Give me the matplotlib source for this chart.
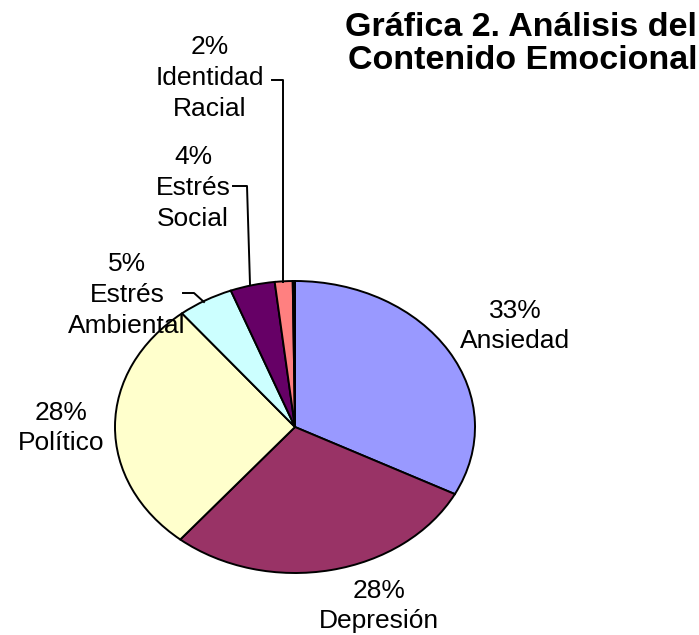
import matplotlib
matplotlib.use("Agg")
import matplotlib.pyplot as plt

# datos de la gráfica (porcentajes)
categorias = ["Ansiedad", "Depresión", "Político", "Estrés\nAmbiental",
              "Estrés\nSocial", "Identidad\nRacial", ""]
valores = [32.6, 28.4, 28.2, 5.0, 4.0, 1.6, 0.2]
colores = ["#9999FF", "#993366", "#FFFFCC", "#CCFFFF", "#660066", "#FF8080", "#000000"]

plt.rcParams['font.family'] = ['Liberation Sans', 'DejaVu Sans']

W, H = 699, 635
CX, CY, RX, RY = 295, 427, 180, 146


def px(x, y):
    # pixel de la imagen -> coordenadas de datos del pastel
    return (x - CX) / RX, (CY - y) / RY


fig = plt.figure(figsize=(W / 100, H / 100), dpi=100)
ax = fig.add_axes([0, 0, 1, 1])
ax.pie(valores, colors=colores, startangle=90, counterclock=False, radius=1,
       wedgeprops=dict(edgecolor="black", linewidth=1.4))
ax.set_aspect('auto')
x0, _ = px(0, 0)
x1, _ = px(W, 0)
_, y0 = px(0, H)
_, y1 = px(0, 0)
ax.set_xlim(x0, x1)
ax.set_ylim(y0, y1)
ax.axis('off')

# etiquetas: porcentaje + categoría
pos_etiquetas = [(515, 326), (379, 606), (61, 428), (127, 295), (193, 188), (210, 78)]
for cat, val, (lx, ly) in zip(categorias, valores, pos_etiquetas):
    texto = f"{round(val):.0f}%\n{cat}"
    ax.text(*px(lx, ly), texto, ha="center", va="center", fontsize=19,
            linespacing=1.36)

# líneas guía
guias = [
    [(272, 80), (283, 80), (283, 282)],
    [(233, 186), (247, 186), (250, 284)],
    [(183, 293), (194, 293), (204, 302)],
]
for g in guias:
    xs, ys = zip(*[px(a, b) for a, b in g])
    ax.plot(xs, ys, color="black", linewidth=1.4)

ax.text(*px(697, 44), "Gráfica 2. Análisis del\nContenido Emocional", ha="right",
        va="center", fontsize=24.5, fontweight="bold", linespacing=1.07)

fig.savefig("out.png", dpi=100)
